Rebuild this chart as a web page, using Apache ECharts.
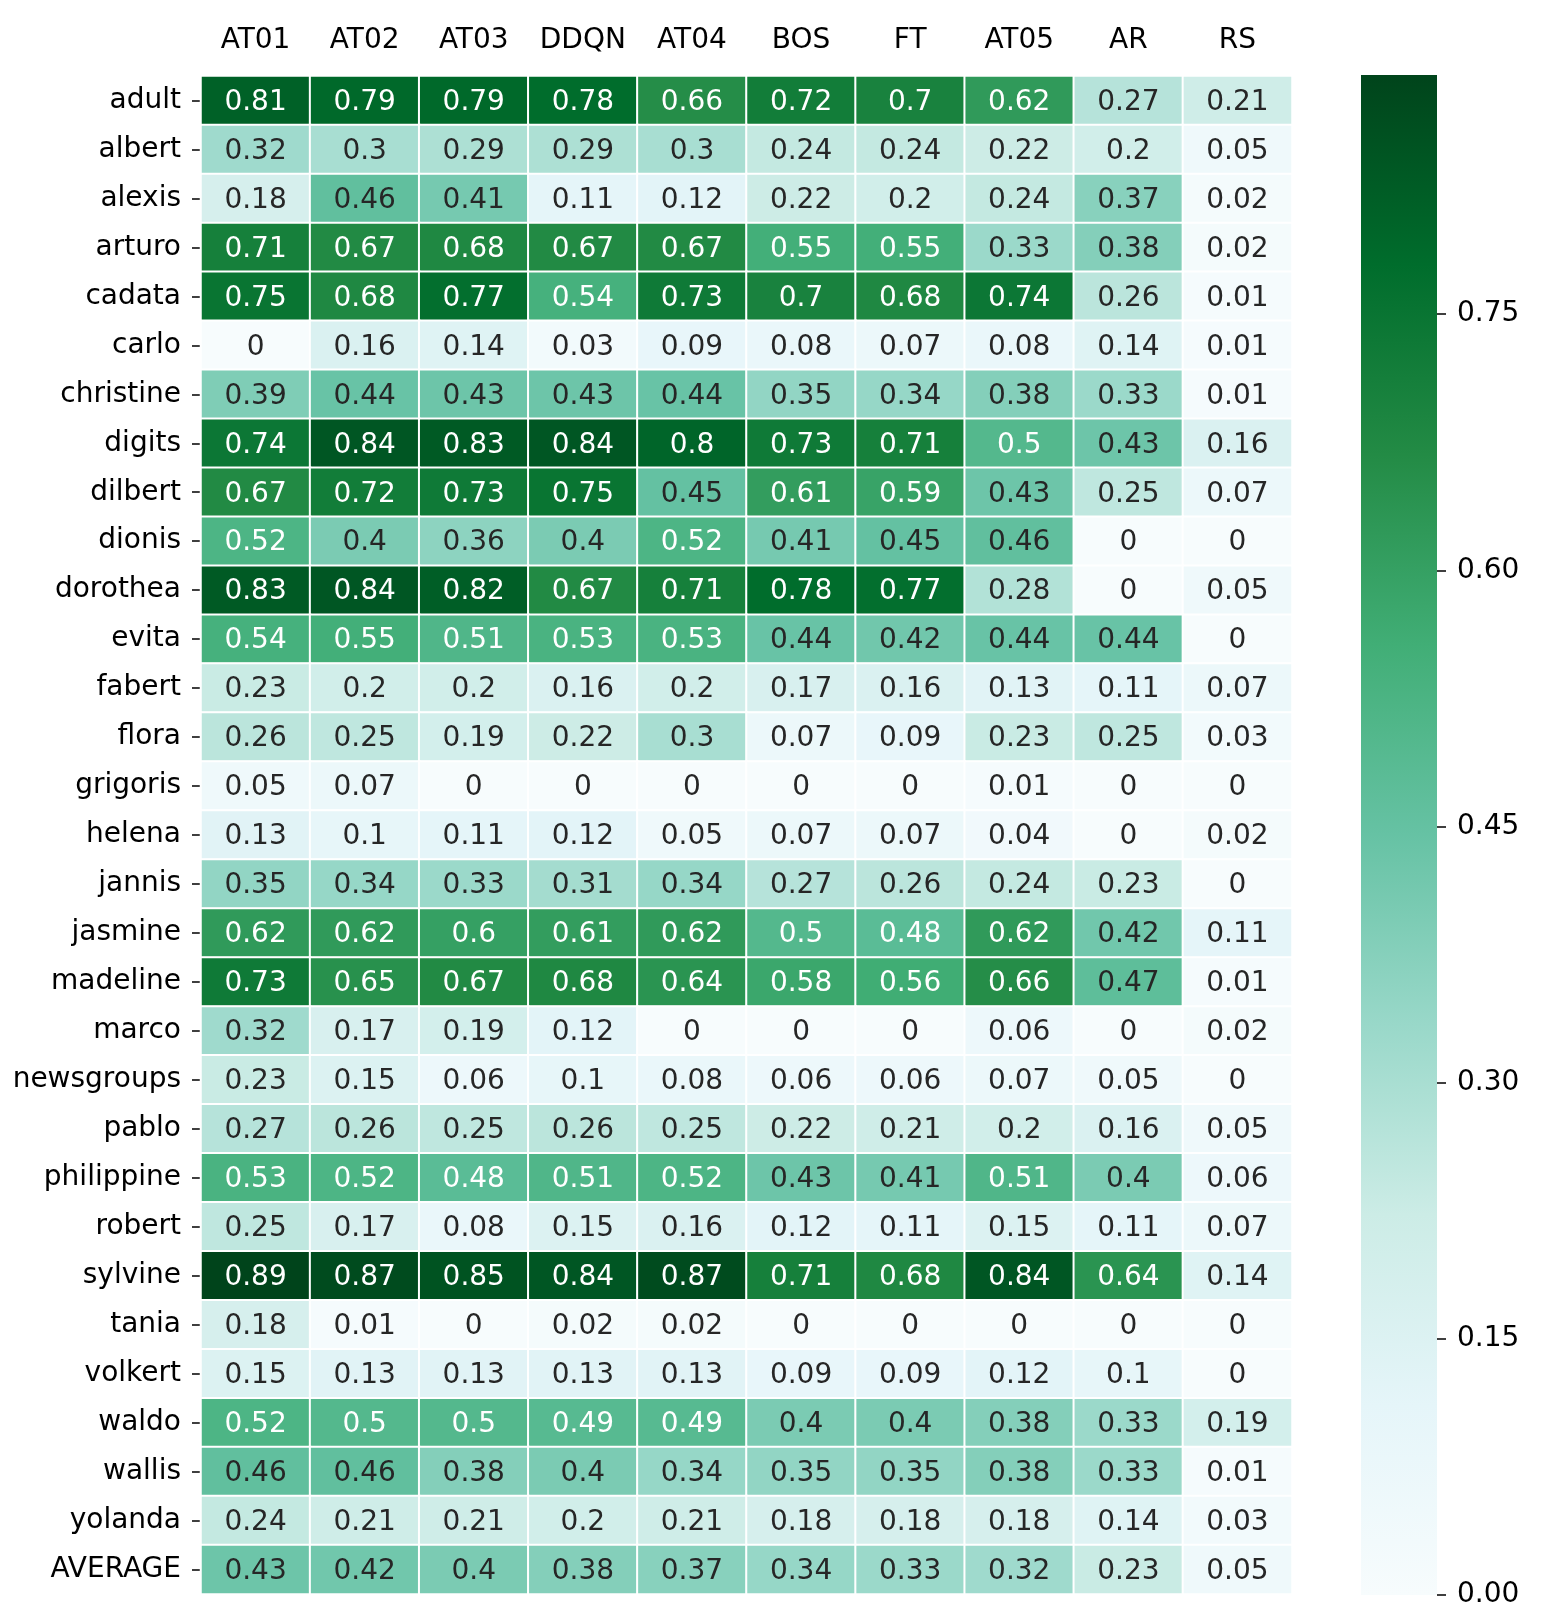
<!DOCTYPE html>
<html>
<head>
<meta charset="utf-8">
<script src="https://cdn.jsdelivr.net/npm/echarts@6/dist/echarts.min.js"></script>
<style>
html, body { margin: 0; padding: 0; background: #fff; }
#main { width: 1566px; height: 1622px; }
</style>
</head>
<body>
<div id="main"></div>
<script>
// 列名
var methods = ['AT01', 'AT02', 'AT03', 'DDQN', 'AT04', 'BOS', 'FT', 'AT05', 'AR', 'RS'];
// 数据集名
var datasets = ['adult', 'albert', 'alexis', 'arturo', 'cadata', 'carlo', 'christine', 'digits',
    'dilbert', 'dionis', 'dorothea', 'evita', 'fabert', 'flora', 'grigoris', 'helena', 'jannis',
    'jasmine', 'madeline', 'marco', 'newsgroups', 'pablo', 'philippine', 'robert', 'sylvine',
    'tania', 'volkert', 'waldo', 'wallis', 'yolanda', 'AVERAGE'];
// 每行一个数据集, 按列名顺序
var adult      = [0.81, 0.79, 0.79, 0.78, 0.66, 0.72, 0.7, 0.62, 0.27, 0.21];
var albert     = [0.32, 0.3, 0.29, 0.29, 0.3, 0.24, 0.24, 0.22, 0.2, 0.05];
var alexis     = [0.18, 0.46, 0.41, 0.11, 0.12, 0.22, 0.2, 0.24, 0.37, 0.02];
var arturo     = [0.71, 0.67, 0.68, 0.67, 0.67, 0.55, 0.55, 0.33, 0.38, 0.02];
var cadata     = [0.75, 0.68, 0.77, 0.54, 0.73, 0.7, 0.68, 0.74, 0.26, 0.01];
var carlo      = [0, 0.16, 0.14, 0.03, 0.09, 0.08, 0.07, 0.08, 0.14, 0.01];
var christine  = [0.39, 0.44, 0.43, 0.43, 0.44, 0.35, 0.34, 0.38, 0.33, 0.01];
var digits     = [0.74, 0.84, 0.83, 0.84, 0.8, 0.73, 0.71, 0.5, 0.43, 0.16];
var dilbert    = [0.67, 0.72, 0.73, 0.75, 0.45, 0.61, 0.59, 0.43, 0.25, 0.07];
var dionis     = [0.52, 0.4, 0.36, 0.4, 0.52, 0.41, 0.45, 0.46, 0, 0];
var dorothea   = [0.83, 0.84, 0.82, 0.67, 0.71, 0.78, 0.77, 0.28, 0, 0.05];
var evita      = [0.54, 0.55, 0.51, 0.53, 0.53, 0.44, 0.42, 0.44, 0.44, 0];
var fabert     = [0.23, 0.2, 0.2, 0.16, 0.2, 0.17, 0.16, 0.13, 0.11, 0.07];
var flora      = [0.26, 0.25, 0.19, 0.22, 0.3, 0.07, 0.09, 0.23, 0.25, 0.03];
var grigoris   = [0.05, 0.07, 0, 0, 0, 0, 0, 0.01, 0, 0];
var helena     = [0.13, 0.1, 0.11, 0.12, 0.05, 0.07, 0.07, 0.04, 0, 0.02];
var jannis     = [0.35, 0.34, 0.33, 0.31, 0.34, 0.27, 0.26, 0.24, 0.23, 0];
var jasmine    = [0.62, 0.62, 0.6, 0.61, 0.62, 0.5, 0.48, 0.62, 0.42, 0.11];
var madeline   = [0.73, 0.65, 0.67, 0.68, 0.64, 0.58, 0.56, 0.66, 0.47, 0.01];
var marco      = [0.32, 0.17, 0.19, 0.12, 0, 0, 0, 0.06, 0, 0.02];
var newsgroups = [0.23, 0.15, 0.06, 0.1, 0.08, 0.06, 0.06, 0.07, 0.05, 0];
var pablo      = [0.27, 0.26, 0.25, 0.26, 0.25, 0.22, 0.21, 0.2, 0.16, 0.05];
var philippine = [0.53, 0.52, 0.48, 0.51, 0.52, 0.43, 0.41, 0.51, 0.4, 0.06];
var robert     = [0.25, 0.17, 0.08, 0.15, 0.16, 0.12, 0.11, 0.15, 0.11, 0.07];
var sylvine    = [0.89, 0.87, 0.85, 0.84, 0.87, 0.71, 0.68, 0.84, 0.64, 0.14];
var tania      = [0.18, 0.01, 0, 0.02, 0.02, 0, 0, 0, 0, 0];
var volkert    = [0.15, 0.13, 0.13, 0.13, 0.13, 0.09, 0.09, 0.12, 0.1, 0];
var waldo      = [0.52, 0.5, 0.5, 0.49, 0.49, 0.4, 0.4, 0.38, 0.33, 0.19];
var wallis     = [0.46, 0.46, 0.38, 0.4, 0.34, 0.35, 0.35, 0.38, 0.33, 0.01];
var yolanda    = [0.24, 0.21, 0.21, 0.2, 0.21, 0.18, 0.18, 0.18, 0.14, 0.03];
var average    = [0.43, 0.42, 0.4, 0.38, 0.37, 0.34, 0.33, 0.32, 0.23, 0.05];
// 色条刻度
var cbarTicks = [0, 0.15, 0.3, 0.45, 0.6, 0.75];

var rows = [adult, albert, alexis, arturo, cadata, carlo, christine, digits, dilbert, dionis,
    dorothea, evita, fabert, flora, grigoris, helena, jannis, jasmine, madeline, marco,
    newsgroups, pablo, philippine, robert, sylvine, tania, volkert, waldo, wallis, yolanda, average];

// BuGn 调色
var bugn = ['#f7fcfd', '#e5f5f9', '#ccece6', '#99d8c9', '#66c2a4', '#41ae76', '#238b45', '#006d2c', '#00441b'];
var FONT = 'DejaVu Sans';
var FS = 28;

var vmax = 0;
var cells = [];
for (var r = 0; r < rows.length; r++) {
    for (var c = 0; c < methods.length; c++) {
        var v = rows[r][c];
        if (v > vmax) vmax = v;
        cells.push({
            value: [c, r, v],
            label: {color: v >= 0.475 ? '#ffffff' : '#262626'}
        });
    }
}

var stops = [];
for (var i = 0; i < bugn.length; i++) {
    stops.push({offset: i / (bugn.length - 1), color: bugn[bugn.length - 1 - i]});
}

var chart = echarts.init(document.getElementById('main'), null, {renderer: 'canvas'});
var option = {
    backgroundColor: '#ffffff',
    animation: false,
    textStyle: {fontFamily: FONT},
    grid: [
        {left: 201, top: 76, width: 1091, height: 1518},
        {left: 1361, top: 75, width: 76, height: 1520}
    ],
    xAxis: [
        {
            gridIndex: 0,
            type: 'category',
            position: 'top',
            data: methods,
            axisLine: {show: false},
            axisTick: {show: false},
            splitLine: {show: false},
            axisLabel: {color: '#000', fontSize: FS, fontFamily: FONT, margin: 21, interval: 0}
        },
        {
            gridIndex: 1,
            type: 'category',
            data: [''],
            show: false
        }
    ],
    yAxis: [
        {
            gridIndex: 0,
            type: 'category',
            inverse: true,
            data: datasets,
            axisLine: {show: false},
            axisTick: {show: true, length: 9, alignWithLabel: true, lineStyle: {color: '#000', width: 1.5}},
            splitLine: {show: false},
            axisLabel: {color: '#000', fontSize: FS, fontFamily: FONT, margin: 20, interval: 0, padding: [4, 0, 0, 0]}
        },
        {
            gridIndex: 1,
            type: 'value',
            position: 'right',
            min: 0,
            max: vmax,
            axisLine: {show: false},
            splitLine: {show: false},
            axisTick: {show: true, length: 9, customValues: cbarTicks, lineStyle: {color: '#000', width: 1.5}},
            axisLabel: {
                color: '#000', fontSize: FS, fontFamily: FONT, margin: 20,
                padding: [4, 0, 0, 0],
                customValues: cbarTicks,
                formatter: function (v) { return v.toFixed(2); }
            }
        }
    ],
    visualMap: {
        show: false,
        type: 'continuous',
        seriesIndex: 0,
        dimension: 2,
        min: 0,
        max: vmax,
        inRange: {color: bugn}
    },
    series: [
        {
            type: 'heatmap',
            xAxisIndex: 0,
            yAxisIndex: 0,
            data: cells,
            itemStyle: {borderColor: '#ffffff', borderWidth: 2},
            label: {
                show: true,
                fontSize: FS,
                fontFamily: FONT,
                offset: [0, 2],
                formatter: function (p) { return String(p.value[2]); }
            }
        },
        {
            type: 'bar',
            xAxisIndex: 1,
            yAxisIndex: 1,
            barWidth: '100%',
            data: [vmax],
            itemStyle: {
                color: {type: 'linear', x: 0, y: 0, x2: 0, y2: 1, colorStops: stops}
            },
            silent: true
        }
    ]
};
chart.setOption(option);
</script>
</body>
</html>
